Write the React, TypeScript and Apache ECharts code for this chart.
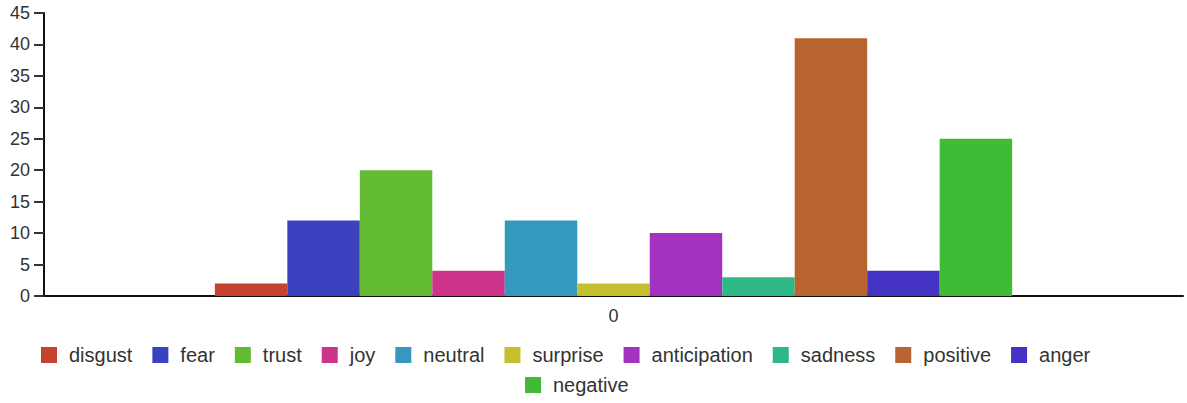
import React, { useEffect, useRef } from "react";
import * as echarts from "echarts";

const categories = ["0"];
const seriesNames = ["disgust", "fear", "trust", "joy", "neutral", "surprise", "anticipation", "sadness", "positive", "anger", "negative"];
const seriesValues = [2, 12, 20, 4, 12, 2, 10, 3, 41, 4, 25];
const seriesColors = ["#c4432f", "#3a42bf", "#62bb33", "#cd3389", "#3499bc", "#c5c12e", "#a232bf", "#2eb886", "#b96330", "#4433c2", "#40bb35"];

export default function App() {
  const ref = useRef<HTMLDivElement>(null);
  useEffect(() => {
    const chart = echarts.init(ref.current!, null, { renderer: "svg" });
    const font = "'Liberation Sans', Arial, sans-serif";
    const legendText = { fontSize: 20, lineHeight: 20, color: "#333", fontFamily: font, padding: [0, 0, 0, 7] };
    chart.setOption({
      animation: false,
      textStyle: { fontFamily: font },
      grid: { left: 44, right: 4, top: 13, bottom: 107, containLabel: false },
      legend: [
        {
          data: seriesNames.slice(0, 10),
          left: 41,
          top: 345,
          padding: 0,
          itemWidth: 16,
          itemHeight: 16,
          itemGap: 20,
          icon: "rect",
          textStyle: legendText,
        },
        {
          data: seriesNames.slice(10),
          left: 525,
          top: 375,
          padding: 0,
          itemWidth: 16,
          itemHeight: 16,
          itemGap: 20,
          icon: "rect",
          textStyle: legendText,
        },
      ],
      xAxis: {
        type: "category",
        data: categories,
        axisLine: { lineStyle: { color: "#111", width: 2 } },
        axisTick: { alignWithLabel: true, length: 10, lineStyle: { color: "#333", width: 2 } },
        axisLabel: { fontSize: 18, color: "#333", margin: 11 },
      },
      yAxis: {
        type: "value",
        min: 0,
        max: 45,
        interval: 5,
        splitLine: { show: false },
        axisLine: { show: true, lineStyle: { color: "#111", width: 2 } },
        axisTick: { show: true, length: 10, lineStyle: { color: "#333", width: 2 } },
        axisLabel: { fontSize: 18, color: "#333", margin: 14 },
      },
      series: seriesNames.map((name, i) => ({
        name,
        type: "bar",
        data: [seriesValues[i]],
        itemStyle: { color: seriesColors[i] },
        barGap: "0%",
        barCategoryGap: "30%",
      })),
    });
    return () => chart.dispose();
  }, []);
  return <div ref={ref} style={{ position: "absolute", left: 0, top: 0, width: 1187, height: 403 }} />;
}
